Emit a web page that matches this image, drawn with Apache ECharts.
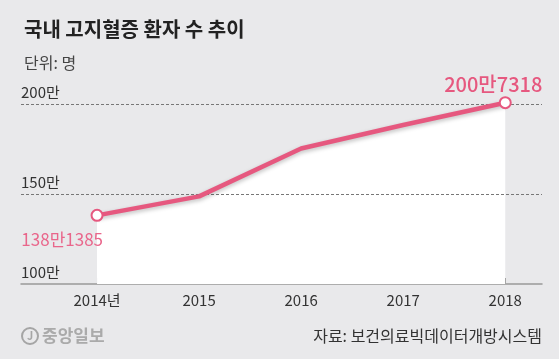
<!DOCTYPE html>
<html><head><meta charset="utf-8">
<script src="https://cdn.jsdelivr.net/npm/echarts@6/dist/echarts.min.js"></script>
<style>html,body{margin:0;padding:0;background:#e9e9eb}#c{width:559px;height:359px}</style>
</head><body><div id="c"></div>
<script>
const years = [2014, 2015, 2016, 2017, 2018];
const yearLabels = ['2014년', '2015', '2016', '2017', '2018'];
const patients = [1381385, 1487000, 1753000, 1883000, 2007318];
const yTicks = [1000000, 1500000, 2000000];
const firstLabel = '138만1385';
const lastLabel = '200만7318';

const F = '"Noto Sans CJK KR", "Noto Sans", sans-serif';
const pink = '#e6587f';
const pts = years.map((y, i) => [y, patients[i]]);
const lineData = pts.map((p, i) => {
  const o = { value: p };
  if (i === 0) {
    o.symbol = 'circle';
    o.label = { show: true, formatter: firstLabel, position: 'bottom', distance: 9, align: 'right', offset: [6, 0], color: '#e9668b', fontSize: 17, fontFamily: F };
  } else if (i === pts.length - 1) {
    o.symbol = 'circle';
    o.label = { show: true, formatter: lastLabel, position: 'top', distance: 2, offset: [-12, 0], color: pink, fontSize: 20, fontWeight: 500, fontFamily: F };
  } else {
    o.symbol = 'none';
  }
  return o;
});

const chart = echarts.init(document.getElementById('c'), null, { renderer: 'canvas' });
chart.setOption({
  backgroundColor: '#e9e9eb',
  animation: false,
  grid: { left: 21, right: 17, top: 104, bottom: 75 },
  title: [
    { text: '국내 고지혈증 환자 수 추이', left: 19, top: 14, textStyle: { fontFamily: F, fontSize: 20, fontWeight: 'bold', color: '#222' } },
    { text: '단위: 명', left: 19, top: 50, textStyle: { fontFamily: F, fontSize: 16, fontWeight: 'normal', color: '#444' } }
  ],
  xAxis: {
    type: 'value', min: 2013.255, max: 2018.36,
    splitLine: { show: false },
    axisLine: { show: true, lineStyle: { color: '#999', width: 1.5 } },
    axisTick: { show: true, inside: true, length: 6, customValues: years, lineStyle: { color: '#888' } },
    axisLabel: { customValues: years, formatter: v => yearLabels[years.indexOf(Math.round(v))], margin: 9, fontFamily: F, fontSize: 15, color: '#333' }
  },
  yAxis: {
    type: 'value', min: 1000000, max: 2000000, interval: 500000, z: 3,
    axisLine: { show: false }, axisTick: { show: false },
    splitLine: { show: true, showMinLine: false, lineStyle: { type: [3, 2], color: '#777', width: 1 } },
    axisLabel: { inside: true, margin: 0, verticalAlign: 'bottom', lineHeight: 16, padding: [0, 0, 4, 0], formatter: v => (v / 10000) + '만', fontFamily: F, fontSize: 15, color: '#333' }
  },
  series: [
    { type: 'line', z: 1, data: pts, symbol: 'none', lineStyle: { width: 0 }, areaStyle: { color: '#ffffff', opacity: 1, origin: 'start' }, silent: true },
    { type: 'line', z: 5, data: lineData, clip: false, symbolSize: 11,
      itemStyle: { color: '#ffffff', borderColor: pink, borderWidth: 2 },
      lineStyle: { color: pink, width: 4.5, shadowColor: 'rgba(0,0,0,0.25)', shadowBlur: 4, shadowOffsetY: 2 } }
  ],
  graphic: [
    { type: 'circle', shape: { cx: 30, cy: 336, r: 8 }, style: { fill: 'none', stroke: '#a5a5a5', lineWidth: 2 } },
    { type: 'text', x: 30, y: 336, style: { text: 'J', fontFamily: F, fontSize: 11, fontWeight: 'bold', fill: '#a5a5a5', align: 'center', verticalAlign: 'middle' } },
    { type: 'text', x: 42, y: 336, style: { text: '중앙일보', fontFamily: F, fontSize: 17, fontWeight: 'bold', fill: '#aaaaaa', verticalAlign: 'middle' } },
    { type: 'text', x: 542, y: 336, style: { text: '자료: 보건의료빅데이터개방시스템', fontFamily: F, fontSize: 16, fill: '#333', align: 'right', verticalAlign: 'middle' } }
  ]
});
</script></body></html>
